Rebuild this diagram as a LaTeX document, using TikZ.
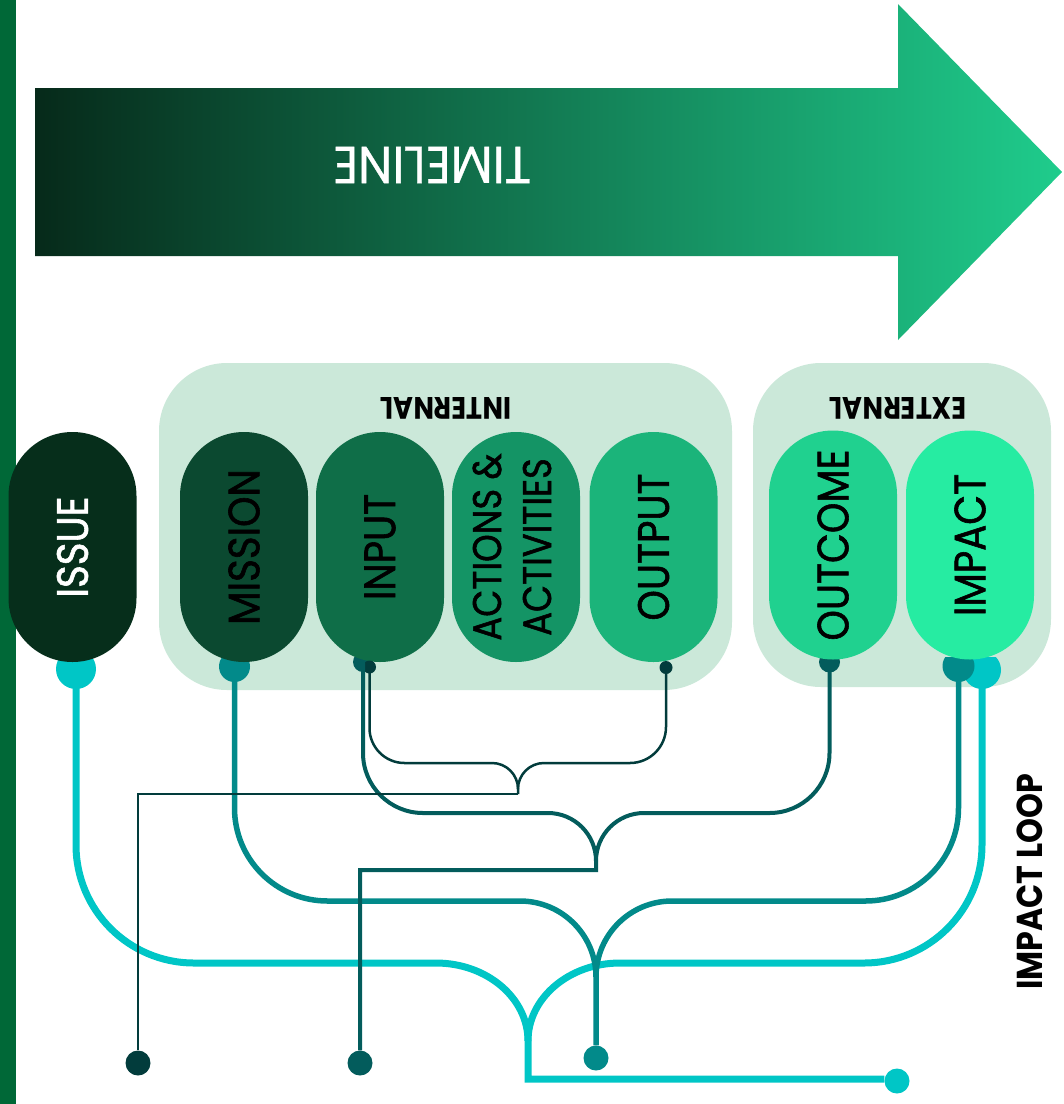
\documentclass[tikz,border=0pt]{standalone}
\usepackage{fontspec}
\newfontfamily\pop[FakeStretch=0.88]{Poppins}
\newfontfamily\popm[FakeStretch=0.88, FakeBold=1.3]{Poppins}
\newfontfamily\popt[FakeStretch=0.94, FakeBold=0.6]{Poppins}
\definecolor{stripeC}{RGB}{0,104,55}
\definecolor{arrowL}{RGB}{6,42,26}
\definecolor{arrowR}{RGB}{31,204,140}
\definecolor{boxbg}{RGB}{203,232,217}
\definecolor{issueC}{RGB}{6,46,27}
\definecolor{missionC}{RGB}{11,73,48}
\definecolor{inputC}{RGB}{15,110,72}
\definecolor{actionsC}{RGB}{20,148,101}
\definecolor{outputC}{RGB}{27,180,122}
\definecolor{outcomeC}{RGB}{32,209,143}
\definecolor{impactC}{RGB}{38,236,162}
\definecolor{cyanC}{RGB}{0,198,198}
\definecolor{tealC}{RGB}{2,138,138}
\definecolor{dtealC}{RGB}{3,92,92}
\definecolor{ddtealC}{RGB}{2,60,60}
\tikzset{
  pill/.style={rectangle, rounded corners=64pt, minimum width=128pt, minimum height=230pt, inner sep=0pt,
    font=\popm\fontsize{44}{50}\selectfont, text=black},
  groupbox/.style={rounded corners=68pt, fill=boxbg},
  grouplabel/.style={font=\pop\bfseries\fontsize{31}{36}\selectfont, text=black, inner sep=0pt},
  enddot/.style={circle, minimum size=25pt, inner sep=0pt},
  cyanline/.style={draw=cyanC, line width=7pt},
  tealline/.style={draw=tealC, line width=5.5pt},
  dtline/.style={draw=dtealC, line width=4pt},
  thinline/.style={draw=ddtealC, line width=2.5pt},
}
\begin{document}
\begin{tikzpicture}[x=1pt, y=1pt, yscale=-1]
\useasboundingbox (0,0) rectangle (1064,1104);
% left stripe
\fill[stripeC] (0,0) rectangle (16,1104);
% timeline arrow
\shade[left color=arrowL, right color=arrowR]
  (35,88) -- (898,88) -- (898,4) -- (1062,172) -- (898,340) -- (898,256) -- (35,256) -- cycle;
\node[font=\popt\fontsize{52}{60}\selectfont, text=white, inner sep=0pt] (timeline) at (432,165) {\rotatebox{180}{TIMELINE}};
% group boxes
\fill[groupbox] (159,363) rectangle (732,690);
\fill[groupbox] (753,363) rectangle (1051,687);
\node[grouplabel] (internal) at (446,408) {\rotatebox{180}{INTERNAL}};
\node[grouplabel] (external) at (898,408) {\rotatebox{180}{EXTERNAL}};
% drop coordinates
\coordinate (issueD) at (76,669);
\coordinate (missionD) at (234.5,666.5);
\coordinate (inputD) at (363,662);
\coordinate (inputS) at (369.5,667);
\coordinate (outputS) at (666,667.5);
\coordinate (outcomeD) at (829.5,662);
\coordinate (impactDt) at (958.5,666);
\coordinate (impactDc) at (982,670);
% drops
\begin{scope}
  \clip (0,657) rectangle (1064,720);
  \fill[cyanC] (issueD) circle[radius=20];
  \fill[tealC] (missionD) circle[radius=15.5];
  \fill[dtealC] (inputD) circle[radius=10];
  \fill[dtealC] (outcomeD) circle[radius=10.5];
  \fill[cyanC] (impactDc) circle[radius=19];
  \fill[tealC] (impactDt) circle[radius=16];
\end{scope}
% pills
\node[pill, fill=issueC, text=white] (issue) at (72.5,547) {\rotatebox{90}{ISSUE}};
\node[pill, fill=missionC] (mission) at (244,547) {\rotatebox{90}{MISSION}};
\node[pill, fill=inputC] (input) at (380,547) {\rotatebox{90}{INPUT}};
\node[pill, fill=actionsC, font=\popm\fontsize{40}{50}\selectfont] (actions) at (516,547)
  {\rotatebox{90}{\begin{tabular}{@{}c@{}}ACTIONS \&\\ACTIVITIES\end{tabular}}};
\node[pill, fill=outputC] (output) at (653.5,547) {\rotatebox{90}{OUTPUT}};
\node[pill, fill=outcomeC, minimum height=229pt] (outcome) at (833,545) {\rotatebox{90}{OUTCOME}};
\node[pill, fill=impactC, minimum height=229pt] (impact) at (970,545) {\rotatebox{90}{IMPACT}};
% small dots
\fill[ddtealC] (inputS) circle[radius=6.5];
\fill[ddtealC] (outputS) circle[radius=6.5];
% end dots
\node[enddot, fill=ddtealC] (endA) at (138,1063) {};
\node[enddot, fill=dtealC] (endB) at (360,1063) {};
\node[enddot, fill=tealC] (endC) at (596,1058) {};
\node[enddot, fill=cyanC] (endD) at (897,1081) {};
% cyan connectors
\draw[cyanline] (issueD) -- (76,845) arc[start angle=180,end angle=90,radius=118]
  -- (436,963) arc[start angle=270,end angle=360,x radius=92,y radius=78]
  -- (528,1079) -- (endD.west |- 528,1079);
\draw[cyanline] (impactDc) -- (982,845) arc[start angle=0,end angle=90,radius=118]
  -- (620,963) arc[start angle=270,end angle=180,x radius=92,y radius=78];
% teal connectors
\draw[tealline] (missionD) -- (234.5,808) arc[start angle=180,end angle=90,radius=93]
  -- (520,901) arc[start angle=270,end angle=360,radius=76] -- (endC);
\draw[tealline] (impactDt) -- (958.5,808) arc[start angle=0,end angle=90,radius=93]
  -- (672,901) arc[start angle=270,end angle=180,radius=76];
% dark teal connectors
\draw[dtline] (inputD) -- (363,753) arc[start angle=180,end angle=90,radius=60]
  -- (548,813) arc[start angle=270,end angle=360,radius=48]
  -- (596,870) -- (360,870) -- (endB);
\draw[dtline] (outcomeD) -- (829.5,753) arc[start angle=0,end angle=90,radius=60]
  -- (644,813) arc[start angle=270,end angle=180,radius=48];
% thin connectors
\coordinate (thinJ) at (518,794);
\draw[thinline] (inputS) -- (369.5,728) arc[start angle=180,end angle=90,radius=35]
  -- (492,763) arc[start angle=270,end angle=360,radius=26] -- (thinJ);
\draw[thinline] (outputS) -- (666,727) arc[start angle=0,end angle=90,radius=36]
  -- (544,763) arc[start angle=270,end angle=180,radius=26];
\draw[thinline, line width=2pt] (thinJ) -- (138,794) -- (endA);
% impact loop label
\node[font=\pop\bfseries\fontsize{36}{40}\selectfont, text=black, inner sep=0pt] (loop) at (1030,882) {\rotatebox{90}{IMPACT LOOP}};
\end{tikzpicture}
\end{document}
